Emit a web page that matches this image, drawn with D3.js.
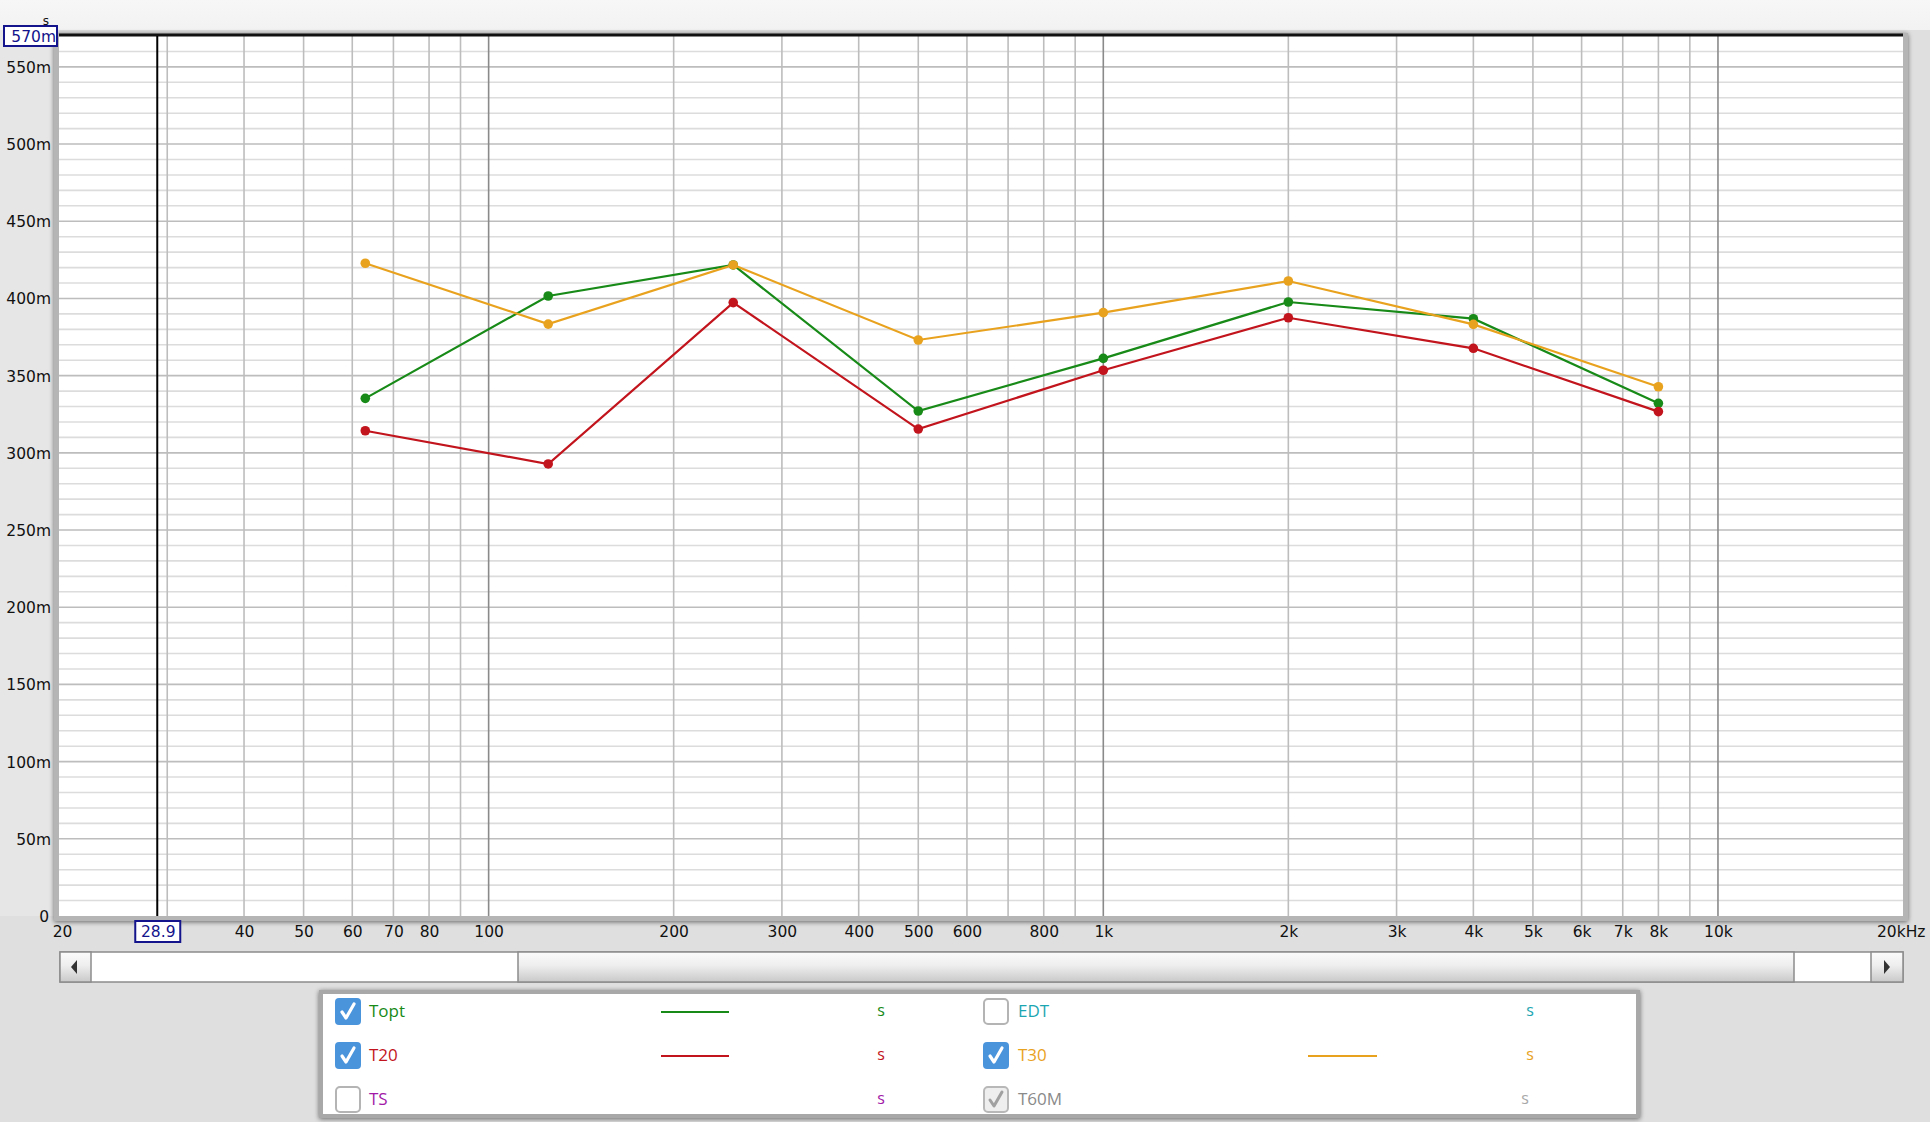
<!DOCTYPE html>
<html><head><meta charset="utf-8">
<script src="https://cdn.jsdelivr.net/npm/d3@7/dist/d3.min.js"></script>
<style>
html,body{margin:0;padding:0;background:#dfdfdf;}
svg{display:block;}
</style></head>
<body>
<svg id="chart" width="1930" height="1122"></svg>
<script>
// ---- data ----
const freqs = [63, 125, 250, 500, 1000, 2000, 4000, 8000];
const toptValues = [0.3353, 0.4016, 0.4217, 0.3271, 0.3612, 0.3977, 0.3869, 0.3321];
const t20Values  = [0.3143, 0.2928, 0.3973, 0.3154, 0.3535, 0.3875, 0.3677, 0.3267];
const t30Values  = [0.4228, 0.3834, 0.4217, 0.3731, 0.3908, 0.4113, 0.3832, 0.3428];
const xTickValues = [20, 40, 50, 60, 70, 80, 100, 200, 300, 400, 500, 600, 800, 1000, 2000, 3000, 4000, 5000, 6000, 7000, 8000, 10000];
const xTickLabels = ["20", "40", "50", "60", "70", "80", "100", "200", "300", "400", "500", "600", "800", "1k", "2k", "3k", "4k", "5k", "6k", "7k", "8k", "10k"];
const yTickValues = [0, 0.05, 0.10, 0.15, 0.20, 0.25, 0.30, 0.35, 0.40, 0.45, 0.50, 0.55];
const yTickLabels = ["0", "50m", "100m", "150m", "200m", "250m", "300m", "350m", "400m", "450m", "500m", "550m"];
const cursorFreq = 28.9;
const cursorLabel = "28.9";
const yMaxLabel = "570m";
const legendNames = ["Topt", "T20", "TS", "EDT", "T30", "T60M"];
const legendChecked = [true, true, false, false, true, "disabled"];
const legendColors = ["#178a17", "#c2141c", "#a21aa8", "#1ca6b2", "#e9a21e", "#8a8a8a"];

const series = [
  {name: "Topt", values: toptValues, color: "#178a17"},
  {name: "T20", values: t20Values, color: "#c2141c"},
  {name: "T30", values: t30Values, color: "#e9a21e"}
];

// ---- layout ----
const svg = d3.select("#chart");
const L = 59, R = 1903, T = 36, B = 916;
const x = d3.scaleLog().domain([20, 20000]).range([L, R]);
const y = d3.scaleLinear().domain([0, 0.57]).range([B, T]);
const font = "'DejaVu Sans', Verdana, sans-serif";
const lfont = "'Open Sans', 'Noto Sans', sans-serif";
const fs = 15.5;

// backgrounds
svg.append("rect").attr("x",0).attr("y",0).attr("width",1930).attr("height",1122).attr("fill","#dfdfdf");
const defs = svg.append("defs");
const topGrad = defs.append("linearGradient").attr("id","topg").attr("x1",0).attr("x2",0).attr("y1",0).attr("y2",1);
topGrad.append("stop").attr("offset","0%").attr("stop-color","#f7f7f7");
topGrad.append("stop").attr("offset","100%").attr("stop-color","#f2f2f2");
svg.append("rect").attr("x",0).attr("y",0).attr("width",1930).attr("height",30).attr("fill","url(#topg)");
svg.append("rect").attr("x",0).attr("y",30).attr("width",L).attr("height",B-30).attr("fill","#e6e6e6");

// plot frame shadow
const sh = defs.append("filter").attr("id","shadow").attr("x","-5%").attr("y","-5%").attr("width","110%").attr("height","110%");
sh.append("feGaussianBlur").attr("in","SourceAlpha").attr("stdDeviation",2.5).attr("result","b");
sh.append("feOffset").attr("in","b").attr("dx",0).attr("dy",1).attr("result","o");
sh.append("feComponentTransfer").attr("in","o").attr("result","oc").append("feFuncA").attr("type","linear").attr("slope",0.55);
const mg = sh.append("feMerge"); mg.append("feMergeNode").attr("in","oc"); mg.append("feMergeNode").attr("in","SourceGraphic");

svg.append("rect").attr("x",L-5).attr("y",T-3).attr("width",R-L+10).attr("height",B-T+8).attr("fill","#b5b5b5").attr("filter","url(#shadow)");
svg.append("rect").attr("x",L).attr("y",T).attr("width",R-L).attr("height",B-T).attr("fill","#ffffff");

// horizontal grid: minor every 10m, major every 50m
const gridG = svg.append("g");
const minorY = d3.range(1, 57).map(i => i / 100).filter(v => Math.round(v * 100) % 5 !== 0);
gridG.selectAll(".hmin").data(minorY).join("line")
  .attr("x1", L).attr("x2", R).attr("y1", d => y(d)).attr("y2", d => y(d))
  .attr("stroke", "#dcdcdc").attr("stroke-width", 1.6);
gridG.selectAll(".hmaj").data(yTickValues.filter(v => v > 0)).join("line")
  .attr("x1", L).attr("x2", R).attr("y1", d => y(d)).attr("y2", d => y(d))
  .attr("stroke", "#bdbdbd").attr("stroke-width", 1.6);

// vertical grid
const vLines = [];
[10, 100, 1000, 10000].forEach(dec => { for (let k = 1; k <= 9; k++) { const f = dec * k; if (f > 20 && f < 20000) vLines.push(f); } });
gridG.selectAll(".v").data(vLines).join("line")
  .attr("x1", d => x(d)).attr("x2", d => x(d)).attr("y1", T).attr("y2", B)
  .attr("stroke", d => [100, 1000, 10000].includes(d) ? "#8a8a8a" : "#bdbdbd")
  .attr("stroke-width", 1.6);

// top black border
svg.append("line").attr("x1", L).attr("x2", R).attr("y1", T - 1).attr("y2", T - 1).attr("stroke", "#111").attr("stroke-width", 3);

// cursor line
svg.append("line").attr("x1", x(cursorFreq)).attr("x2", x(cursorFreq)).attr("y1", T).attr("y2", B)
  .attr("stroke", "#000").attr("stroke-width", 2);

// series
const line = d3.line().x((d, i) => x(freqs[i])).y(d => y(d));
series.forEach(s => {
  svg.append("path").datum(s.values).attr("d", line).attr("fill", "none")
    .attr("stroke", s.color).attr("stroke-width", 2.2);
  svg.append("g").selectAll("circle").data(s.values).join("circle")
    .attr("cx", (d, i) => x(freqs[i])).attr("cy", d => y(d)).attr("r", 4.8)
    .attr("fill", s.color);
});

// y axis labels
const yAxis = d3.axisLeft(y).tickValues(yTickValues).tickFormat((d, i) => yTickLabels[i]).tickSize(0).tickPadding(0);
const yg = svg.append("g").attr("transform", `translate(${L - 8},0)`).call(yAxis);
yg.select(".domain").remove();
yg.selectAll("text").attr("font-family", font).attr("font-size", fs).attr("fill", "#111").attr("dy", "0.35em");
yg.selectAll(".tick").filter(d => d === 0).select("text").attr("transform", "translate(-2,0)");

// x axis labels
const xAxis = d3.axisBottom(x).tickValues(xTickValues).tickFormat((d, i) => xTickLabels[i]).tickSize(0).tickPadding(0);
const xg = svg.append("g").attr("transform", `translate(0,${B + 7})`).call(xAxis);
xg.select(".domain").remove();
xg.selectAll("text").attr("font-family", font).attr("font-size", fs).attr("fill", "#111").attr("dy", "0.9em");
xg.selectAll(".tick").filter(d => d === 20).select("text").attr("transform", "translate(3,0)");
svg.append("text").attr("x", x(20000) - 26).attr("y", B + 21).attr("font-family", font).attr("font-size", fs)
  .attr("fill", "#111").text("20kHz");

// cursor label box
const cx = x(cursorFreq);
svg.append("rect").attr("x", cx - 22).attr("y", B + 5).attr("width", 45).attr("height", 21)
  .attr("fill", "#fff").attr("stroke", "#14148c").attr("stroke-width", 2);
svg.append("text").attr("x", cx + 1).attr("y", B + 21).attr("text-anchor", "middle")
  .attr("font-family", font).attr("font-size", fs).attr("fill", "#14148c").text(cursorLabel);

// y max label box + unit
svg.append("rect").attr("x", 4).attr("y", 26).attr("width", 53).attr("height", 20)
  .attr("fill", "#fff").attr("stroke", "#14148c").attr("stroke-width", 2);
svg.append("text").attr("x", 56).attr("y", 41.5).attr("text-anchor", "end")
  .attr("font-family", font).attr("font-size", fs).attr("fill", "#14148c").text(yMaxLabel);
svg.append("text").attr("x", 46).attr("y", 25).attr("text-anchor", "middle")
  .attr("font-family", font).attr("font-size", 12).attr("fill", "#111").text("s");

// ---- scrollbar ----
const sbT = 952, sbB = 982;
const sgrad = defs.append("linearGradient").attr("id", "sbg").attr("x1", 0).attr("x2", 0).attr("y1", 0).attr("y2", 1);
sgrad.append("stop").attr("offset", "0%").attr("stop-color", "#fbfbfb");
sgrad.append("stop").attr("offset", "45%").attr("stop-color", "#eeeeee");
sgrad.append("stop").attr("offset", "100%").attr("stop-color", "#c9c9c9");
svg.append("rect").attr("x", 60).attr("y", sbT).attr("width", 1843).attr("height", sbB - sbT)
  .attr("fill", "#fff").attr("stroke", "#8c8c8c").attr("stroke-width", 1.5);
svg.append("rect").attr("x", 60).attr("y", sbT).attr("width", 31).attr("height", sbB - sbT)
  .attr("fill", "url(#sbg)").attr("stroke", "#8c8c8c").attr("stroke-width", 1.5);
svg.append("rect").attr("x", 518).attr("y", sbT).attr("width", 1794 - 518).attr("height", sbB - sbT)
  .attr("fill", "url(#sbg)").attr("stroke", "#8c8c8c").attr("stroke-width", 1.5);
svg.append("rect").attr("x", 1871).attr("y", sbT).attr("width", 32).attr("height", sbB - sbT)
  .attr("fill", "url(#sbg)").attr("stroke", "#8c8c8c").attr("stroke-width", 1.5);
svg.append("path").attr("d", `M71,${(sbT+sbB)/2} L77,${(sbT+sbB)/2-7} L77,${(sbT+sbB)/2+7} Z`).attr("fill", "#333");
svg.append("path").attr("d", `M1890,${(sbT+sbB)/2} L1884,${(sbT+sbB)/2-7} L1884,${(sbT+sbB)/2+7} Z`).attr("fill", "#333");

// ---- legend ----
svg.append("rect").attr("x", 321).attr("y", 992).attr("width", 1317).attr("height", 124)
  .attr("fill", "#ffffff").attr("stroke", "#a8a8a8").attr("stroke-width", 4).attr("filter", "url(#shadow)");
svg.append("rect").attr("x", 323).attr("y", 994).attr("width", 1313).attr("height", 120).attr("fill", "#ffffff");

const rowY = [1011, 1055, 1099];
const colBox = [335, 983];
const colText = [369, 1018];
const colLine = [[661, 729], [1308, 1377]];
const colUnit = [881, 1530];
legendNames.forEach((name, i) => {
  const col = Math.floor(i / 3), row = i % 3;
  const cy = rowY[row];
  const g = svg.append("g");
  const st = legendChecked[i];
  const bx = colBox[col], by = cy - 13;
  if (st === true) {
    g.append("rect").attr("x", bx).attr("y", by).attr("width", 26).attr("height", 27).attr("rx", 4)
      .attr("fill", "#4a94dc");
    g.append("path").attr("d", `M${bx+7},${by+14} L${bx+11},${by+20} L${bx+19},${by+6}`)
      .attr("fill", "none").attr("stroke", "#fff").attr("stroke-width", 3.2).attr("stroke-linecap", "round").attr("stroke-linejoin", "round");
  } else if (st === "disabled") {
    g.append("rect").attr("x", bx + 1).attr("y", by + 1).attr("width", 24).attr("height", 25).attr("rx", 4)
      .attr("fill", "#eeeeee").attr("stroke", "#b8b8b8").attr("stroke-width", 2);
    g.append("path").attr("d", `M${bx+7},${by+14} L${bx+11},${by+20} L${bx+19},${by+6}`)
      .attr("fill", "none").attr("stroke", "#a0a0a0").attr("stroke-width", 3).attr("stroke-linecap", "round").attr("stroke-linejoin", "round");
  } else {
    g.append("rect").attr("x", bx + 1).attr("y", by + 1).attr("width", 24).attr("height", 25).attr("rx", 4)
      .attr("fill", "#fff").attr("stroke", "#b4b4b4").attr("stroke-width", 2);
  }
  g.append("text").attr("x", colText[col]).attr("y", cy + 6).attr("font-family", lfont).attr("font-size", 17)
    .attr("fill", legendColors[i]).text(name);
  if (st === true) {
    g.append("line").attr("x1", colLine[col][0]).attr("x2", colLine[col][1]).attr("y1", cy + 1).attr("y2", cy + 1)
      .attr("stroke", legendColors[i]).attr("stroke-width", 2.2);
  }
  g.append("text").attr("x", colUnit[col] + (st === "disabled" ? -5 : 0)).attr("y", cy + 5).attr("text-anchor", "middle")
    .attr("font-family", lfont).attr("font-size", 16)
    .attr("fill", st === "disabled" ? "#a8a8a8" : legendColors[i]).text("s");
});
</script>
</body></html>
